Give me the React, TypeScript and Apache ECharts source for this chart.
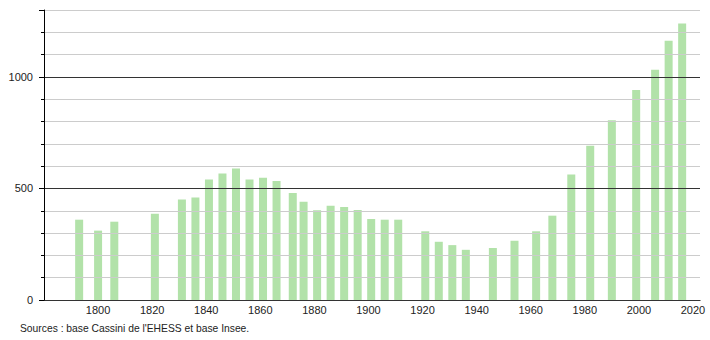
import React, { useEffect, useRef } from "react";
import * as echarts from "echarts";

const years = [1793, 1800, 1806, 1821, 1831, 1836, 1841, 1846, 1851, 1856, 1861, 1866, 1872, 1876, 1881, 1886, 1891, 1896, 1901, 1906, 1911, 1921, 1926, 1931, 1936, 1946, 1954, 1962, 1968, 1975, 1982, 1990, 1999, 2006, 2011, 2016];
const population = [360, 311, 351, 387, 450, 459, 540, 567, 590, 540, 548, 533, 480, 440, 402, 422, 417, 404, 363, 360, 360, 308, 261, 246, 225, 233, 266, 308, 378, 563, 691, 806, 941, 1032, 1162, 1239];
const sourceText = "Sources : base Cassini de l'EHESS et base Insee.";

export default function App() {
  const ref = useRef<HTMLDivElement>(null);
  useEffect(() => {
    if (!ref.current) return;
    const chart = echarts.init(ref.current, null, { renderer: "svg" });
    const font = "Liberation Sans, Arial, sans-serif";
    chart.setOption({
      animation: false,
      grid: { left: 44, right: 10, top: 10, bottom: 40, containLabel: false },
      xAxis: {
        type: "value",
        min: 1780,
        max: 2022.6,
        interval: 20,
        axisLine: { show: true, lineStyle: { color: "#000", width: 1 } },
        axisTick: { show: false },
        splitLine: { show: false },
        axisLabel: {
          color: "#222",
          fontSize: 11,
          fontFamily: font,
          margin: 4,
          showMaxLabel: false,
          formatter: (v: number) => (v % 20 === 0 && v > 1780 ? String(v) : ""),
        },
      },
      yAxis: [
        {
          type: "value",
          min: 0,
          max: 1300,
          interval: 100,
          z: 5,
          axisLine: { show: true, lineStyle: { color: "#000", width: 1 } },
          axisTick: { show: true, length: 3, lineStyle: { color: "#000" } },
          splitLine: {
            show: true,
            lineStyle: { color: ["#333", "#ccc", "#ccc", "#ccc", "#ccc"], width: 1 },
          },
          axisLabel: {
            color: "#222",
            fontSize: 11,
            fontFamily: font,
            margin: 11,
            formatter: (v: number) => (v % 500 === 0 ? String(v) : ""),
          },
        },
        {
          type: "value",
          position: "left",
          min: 0,
          max: 1300,
          interval: 500,
          z: 5,
          axisLine: { show: false },
          axisTick: { show: true, length: 5, lineStyle: { color: "#000" } },
          splitLine: { show: false },
          axisLabel: { show: false },
        },
      ],
      series: [
        {
          type: "bar",
          barWidth: 8,
          itemStyle: { color: "#b2e2a9" },
          data: years.map((y, i) => [y, population[i]]),
        },
      ],
      graphic: [
        {
          type: "text",
          left: 20,
          top: 323,
          style: { text: sourceText, fontSize: 10.3, fontFamily: font, fill: "#222" },
        },
      ],
    });
    return () => chart.dispose();
  }, []);
  return (
    <div
      ref={ref}
      style={{ position: "fixed", left: 0, top: 0, width: 710, height: 340, background: "#fff" }}
    />
  );
}
